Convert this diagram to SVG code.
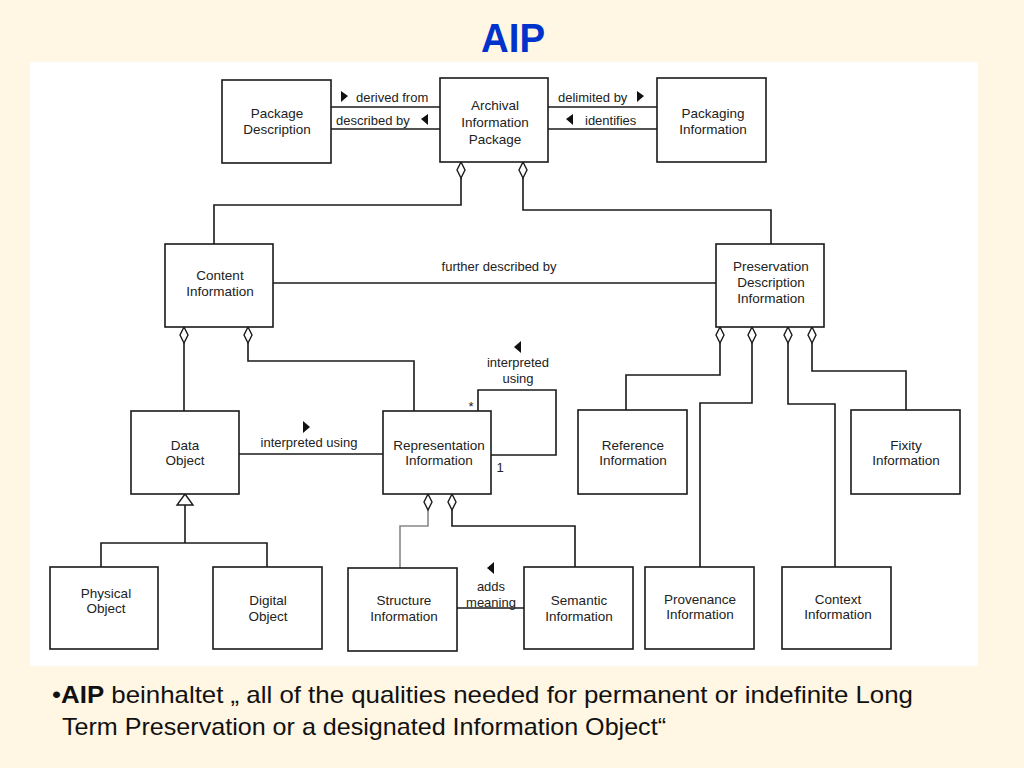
<svg xmlns="http://www.w3.org/2000/svg" width="1024" height="768" viewBox="0 0 1024 768">
<defs>
<style>
.bg{fill:#FFF6E3}
.panel{fill:#FFFFFF}
.box{fill:#FFFFFF;stroke:#1a1a1a;stroke-width:1.6}
.t{font-family:"Liberation Sans",Arial,sans-serif;font-size:13.5px;fill:#222;text-anchor:middle}
.l{font-family:"Liberation Sans",Arial,sans-serif;font-size:13px;fill:#222}
.c{fill:none;stroke:#1a1a1a;stroke-width:1.6}
.g{fill:none;stroke:#888;stroke-width:1.6}
.dia{fill:#FFFFFF;stroke:#1a1a1a;stroke-width:1.4}
.ar{fill:#111}
.title{font-family:"Liberation Sans",Arial,sans-serif;font-size:40px;font-weight:bold;fill:#0033CC;text-anchor:middle}
.body{font-family:"Liberation Sans",Arial,sans-serif;font-size:24px;fill:#111}
</style>
<path id="dm" d="M0,0 L4,8 L0,16 L-4,8 Z"/>
</defs>
<rect class="bg" x="0" y="0" width="1024" height="768"/>
<text class="title" x="513" y="52" textLength="64" lengthAdjust="spacingAndGlyphs">AIP</text>
<rect class="panel" x="30" y="62" width="948" height="604"/>

<g id="connectors">
  <!-- PD - AIP -->
  <line class="c" x1="331" y1="107" x2="440" y2="107"/>
  <line class="c" x1="331" y1="129" x2="440" y2="129"/>
  <!-- AIP - PI -->
  <line class="c" x1="548" y1="107" x2="657" y2="107"/>
  <line class="c" x1="548" y1="129" x2="657" y2="129"/>
  <!-- AIP to CI, PDI -->
  <polyline class="c" points="461,178 461,205 214,205 214,244"/>
  <polyline class="c" points="523,178 523,210 771,210 771,244"/>
  <!-- further described by -->
  <line class="c" x1="273" y1="283" x2="716" y2="283"/>
  <!-- CI to DO, RI -->
  <polyline class="c" points="184,343 184,411"/>
  <polyline class="c" points="248,343 248,361 414,361 414,411"/>
  <!-- DO - RI -->
  <line class="c" x1="239" y1="454" x2="383" y2="454"/>
  <!-- self loop -->
  <polyline class="c" points="478,411 478,390 556,390 556,455 491,455"/>
  <!-- generalization -->
  <polyline class="c" points="185,505 185,543"/>
  <polyline class="c" points="101,567 101,543 267,543 267,567"/>
  <path class="dia" d="M185,494 L193,505 L177,505 Z"/>
  <!-- RI to SI, SemI -->
  <polyline class="g" points="428,510 428,526 400,526 400,568"/>
  <polyline class="c" points="452,510 452,526 575,526 575,567"/>
  <!-- Structure - Semantic -->
  <line class="c" x1="457" y1="608" x2="524" y2="608"/>
  <!-- PDI children -->
  <polyline class="c" points="720,343 720,375 626,375 626,410"/>
  <polyline class="c" points="752,343 752,403 700,403 700,567"/>
  <polyline class="c" points="788,343 788,404 835,404 835,567"/>
  <polyline class="c" points="812,343 812,371 906,371 906,410"/>
  <!-- diamonds -->
  <use href="#dm" class="dia" x="461" y="162"/>
  <use href="#dm" class="dia" x="523" y="162"/>
  <use href="#dm" class="dia" x="184" y="327"/>
  <use href="#dm" class="dia" x="248" y="327"/>
  <use href="#dm" class="dia" x="428" y="494"/>
  <use href="#dm" class="dia" x="452" y="494"/>
  <use href="#dm" class="dia" x="720" y="327"/>
  <use href="#dm" class="dia" x="752" y="327"/>
  <use href="#dm" class="dia" x="788" y="327"/>
  <use href="#dm" class="dia" x="812" y="327"/>
  <!-- labels -->
  <path class="ar" d="M341,91 L348,96 L341,102 Z"/>
  <text class="l" x="356" y="102">derived from</text>
  <text class="l" x="336" y="125">described by</text>
  <path class="ar" d="M428,114 L421,119 L428,125 Z"/>
  <text class="l" x="558" y="102">delimited by</text>
  <path class="ar" d="M637,91 L644,96 L637,102 Z"/>
  <path class="ar" d="M573,114 L566,119 L573,125 Z"/>
  <text class="l" x="585" y="125">identifies</text>
  <text class="l" x="499" y="271" text-anchor="middle">further described by</text>
  <path class="ar" d="M303,421 L310,427 L303,433 Z"/>
  <text class="l" x="309" y="447" text-anchor="middle">interpreted using</text>
  <path class="ar" d="M521,341 L514,347 L521,353 Z"/>
  <text class="l" x="518" y="367" text-anchor="middle">interpreted</text>
  <text class="l" x="518" y="383" text-anchor="middle">using</text>
  <text class="l" x="471" y="411" text-anchor="middle">*</text>
  <text class="l" x="500" y="472" text-anchor="middle">1</text>
  <path class="ar" d="M494,562 L487,568 L494,574 Z"/>
  <text class="l" x="491" y="591" text-anchor="middle">adds</text>
  <text class="l" x="491" y="607" text-anchor="middle">meaning</text>
</g>

<g id="package-description"><rect class="box" x="222" y="80" width="109" height="83"/><text class="t" x="277" y="118">Package</text><text class="t" x="277" y="134">Description</text></g>
<g id="aip"><rect class="box" x="440" y="78" width="108" height="84"/><text class="t" x="495" y="110">Archival</text><text class="t" x="495" y="127">Information</text><text class="t" x="495" y="144">Package</text></g>
<g id="packaging-information"><rect class="box" x="657" y="78" width="109" height="84"/><text class="t" x="713" y="118">Packaging</text><text class="t" x="713" y="134">Information</text></g>
<g id="content-information"><rect class="box" x="165" y="244" width="108" height="83"/><text class="t" x="220" y="280">Content</text><text class="t" x="220" y="296">Information</text></g>
<g id="pdi"><rect class="box" x="716" y="244" width="108" height="83"/><text class="t" x="771" y="271">Preservation</text><text class="t" x="771" y="287">Description</text><text class="t" x="771" y="303">Information</text></g>
<g id="data-object"><rect class="box" x="131" y="411" width="108" height="83"/><text class="t" x="185" y="450">Data</text><text class="t" x="185" y="465">Object</text></g>
<g id="representation-information"><rect class="box" x="383" y="411" width="108" height="83"/><text class="t" x="439" y="450">Representation</text><text class="t" x="439" y="465">Information</text></g>
<g id="reference-information"><rect class="box" x="578" y="410" width="109" height="84"/><text class="t" x="633" y="450">Reference</text><text class="t" x="633" y="465">Information</text></g>
<g id="fixity-information"><rect class="box" x="851" y="410" width="109" height="84"/><text class="t" x="906" y="450">Fixity</text><text class="t" x="906" y="465">Information</text></g>
<g id="physical-object"><rect class="box" x="50" y="567" width="108" height="82"/><text class="t" x="106" y="598">Physical</text><text class="t" x="106" y="613">Object</text></g>
<g id="digital-object"><rect class="box" x="213" y="567" width="109" height="82"/><text class="t" x="268" y="605">Digital</text><text class="t" x="268" y="621">Object</text></g>
<g id="structure-information"><rect class="box" x="348" y="568" width="109" height="83"/><text class="t" x="404" y="605">Structure</text><text class="t" x="404" y="621">Information</text></g>
<g id="semantic-information"><rect class="box" x="524" y="567" width="109" height="82"/><text class="t" x="579" y="605">Semantic</text><text class="t" x="579" y="621">Information</text></g>
<g id="provenance-information"><rect class="box" x="645" y="567" width="109" height="82"/><text class="t" x="700" y="604">Provenance</text><text class="t" x="700" y="619">Information</text></g>
<g id="context-information"><rect class="box" x="782" y="567" width="109" height="82"/><text class="t" x="838" y="604">Context</text><text class="t" x="838" y="619">Information</text></g>

<text class="body" x="52" y="703" textLength="861" lengthAdjust="spacingAndGlyphs">•<tspan font-weight="bold">AIP</tspan> beinhaltet „ all of the qualities needed for permanent or indefinite Long</text>
<text class="body" x="62" y="735" textLength="604" lengthAdjust="spacingAndGlyphs">Term Preservation or a designated Information Object“</text>
</svg>
